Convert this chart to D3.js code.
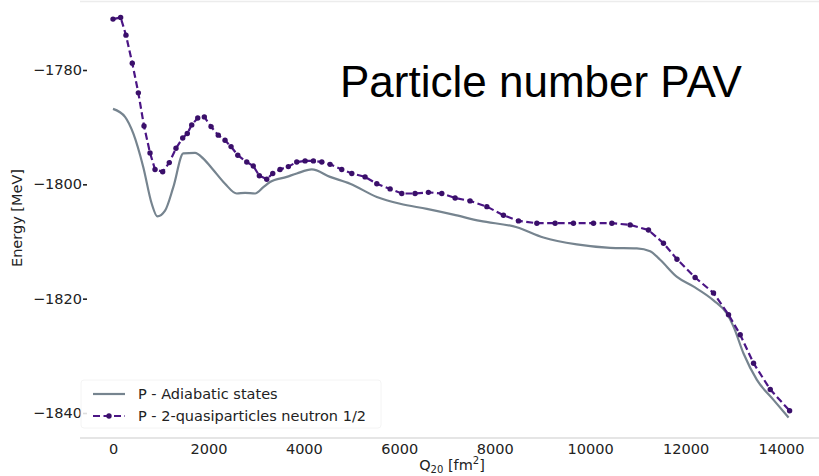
<!DOCTYPE html>
<html>
<head>
<meta charset="utf-8">
<script src="https://cdn.jsdelivr.net/npm/d3@7"></script>
<style>
  body { margin: 0; background: #fff; }
  text { font-family: "DejaVu Sans", sans-serif; }
</style>
</head>
<body>
<svg id="chart" width="819" height="476"></svg>
<script>
// Adiabatic states (solid gray)
const qAdiabatic = [0, 252, 425, 635, 812, 929, 1091, 1264, 1474, 1719,
  1893, 2103, 2348, 2593, 2767, 2977, 3151, 3291, 3641, 3851,
  4166, 4550, 4969, 5529, 6018, 6577, 7134, 7694, 8463, 9021,
  9720, 10420, 10978, 11258, 11467, 11820, 12170, 12585, 12865, 13005,
  13215, 13495, 13843, 14160];
const eAdiabatic = [-1786.8, -1788.2, -1791.1, -1797.0, -1803.4, -1805.6, -1804.6, -1800.5, -1794.6, -1794.5,
  -1795.5, -1797.5, -1799.9, -1801.6, -1801.5, -1801.6, -1800.5, -1799.6, -1798.7, -1798.1,
  -1797.4, -1798.7, -1799.9, -1802.2, -1803.4, -1804.3, -1805.3, -1806.4, -1807.5, -1809.3,
  -1810.5, -1811.1, -1811.2, -1811.7, -1813.2, -1816.2, -1817.9, -1820.3, -1822.6, -1824.9,
  -1829.6, -1834.2, -1837.7, -1840.8];

// 2-quasiparticles neutron 1/2 (dashed purple with dots)
const qQuasi = [0, 160, 272, 404, 531, 650, 776, 881, 1041, 1180,
  1320, 1461, 1557, 1650, 1776, 1914, 2055, 2207, 2348, 2474,
  2615, 2803, 2941, 3067, 3222, 3348, 3501, 3675, 3851, 4026,
  4200, 4376, 4550, 4794, 5005, 5283, 5529, 5808, 6052, 6331,
  6610, 6891, 7170, 7484, 7835, 8183, 8498, 8883, 9266, 9650,
  10070, 10455, 10839, 11223, 11537, 11820, 12200, 12585, 12900, 13145,
  13425, 13775, 14180];
const eQuasi = [-1771.1, -1770.8, -1773.9, -1778.8, -1784.0, -1789.8, -1794.5, -1797.4, -1797.8, -1796.2,
  -1793.7, -1791.9, -1791.1, -1789.6, -1788.4, -1788.2, -1789.9, -1791.4, -1792.3, -1793.4,
  -1794.9, -1796.1, -1796.8, -1798.5, -1799.1, -1798.1, -1797.4, -1796.9, -1796.1, -1795.9,
  -1795.9, -1796.1, -1796.5, -1797.4, -1798.1, -1798.7, -1799.9, -1800.8, -1801.6, -1801.6,
  -1801.4, -1801.6, -1802.4, -1802.9, -1803.9, -1805.4, -1806.4, -1806.8, -1806.8, -1806.8,
  -1806.8, -1806.8, -1807.1, -1808.0, -1810.3, -1813.1, -1816.3, -1819.0, -1822.8, -1826.3,
  -1831.3, -1835.9, -1839.6];

const xTicks = [0, 2000, 4000, 6000, 8000, 10000, 12000, 14000];
const yTicks = [-1780, -1800, -1820, -1840];
const seriesNames = ["P - Adiabatic states", "P - 2-quasiparticles neutron 1/2"];

const GRAY = "#76848f";
const PURPLE = "#4b1585";

const svg = d3.select("#chart");

const x = d3.scaleLinear().domain([0, 14000]).range([113, 781]);
const y = d3.scaleLinear().domain([-1840, -1780]).range([413, 70]);

const adiabatic = qAdiabatic.map((q, i) => ({ q: q, e: eAdiabatic[i] }));
const quasi = qQuasi.map((q, i) => ({ q: q, e: eQuasi[i] }));

// faint frame lines
svg.append("line")
  .attr("x1", 80).attr("x2", 819).attr("y1", 1.5).attr("y2", 1.5)
  .attr("stroke", "#ececec").attr("stroke-width", 1.5);
svg.append("line")
  .attr("x1", 80).attr("x2", 819).attr("y1", 438).attr("y2", 438)
  .attr("stroke", "#dcdcdc").attr("stroke-width", 1.5);

// y axis
const yAxis = svg.append("g")
  .attr("transform", "translate(87,0)")
  .call(d3.axisLeft(y).tickValues(yTicks).tickSize(4).tickPadding(1).tickFormat(d3.format("d")));
yAxis.select(".domain").remove();
yAxis.selectAll(".tick line").attr("stroke", "#222").attr("stroke-width", 1.6);
yAxis.selectAll(".tick text")
  .attr("fill", "#222")
  .style("font-size", "14.5px")
  .style("font-family", "DejaVu Sans");

// x axis
const xAxis = svg.append("g")
  .attr("transform", "translate(0,438)")
  .call(d3.axisBottom(x).tickValues(xTicks).tickSize(0).tickPadding(6).tickFormat(d3.format("d")));
xAxis.select(".domain").remove();
xAxis.selectAll(".tick text")
  .attr("fill", "#222")
  .style("font-size", "14.5px")
  .style("font-family", "DejaVu Sans");

// axis labels
svg.append("text")
  .attr("transform", "translate(22,218) rotate(-90)")
  .attr("text-anchor", "middle")
  .attr("fill", "#222")
  .style("font-size", "14.5px")
  .text("Energy [MeV]");

const xl = svg.append("text")
  .attr("x", 452).attr("y", 470)
  .attr("text-anchor", "middle")
  .attr("fill", "#222")
  .style("font-size", "14.5px");
xl.append("tspan").text("Q");
xl.append("tspan").attr("dy", 2.5).style("font-size", "10px").text("20");
xl.append("tspan").attr("dy", -2.5).text(" [fm");
xl.append("tspan").attr("dy", -6).style("font-size", "10px").text("2");
xl.append("tspan").attr("dy", 6).text("]");

// lines
const lineSmooth = d3.line()
  .x((d) => x(d.q))
  .y((d) => y(d.e))
  .curve(d3.curveMonotoneX);
const lineStraight = d3.line()
  .x((d) => x(d.q))
  .y((d) => y(d.e));

svg.append("path")
  .datum(adiabatic)
  .attr("d", lineSmooth)
  .attr("fill", "none")
  .attr("stroke", GRAY)
  .attr("stroke-width", 2.2);

svg.append("path")
  .datum(quasi)
  .attr("d", lineStraight)
  .attr("fill", "none")
  .attr("stroke", PURPLE)
  .attr("stroke-width", 2.2)
  .attr("stroke-dasharray", "7,3.5");

svg.append("g")
  .selectAll("circle")
  .data(quasi)
  .enter()
  .append("circle")
  .attr("cx", (d) => x(d.q))
  .attr("cy", (d) => y(d.e))
  .attr("r", 2.7)
  .attr("fill", "#3a0f6a");

// title
svg.append("text")
  .attr("x", 340).attr("y", 97)
  .attr("fill", "#000")
  .style("font-family", "'Liberation Sans', Arial, sans-serif")
  .style("font-size", "44px")
  .text("Particle number PAV");

// legend
const legend = svg.append("g");
legend.append("rect")
  .attr("x", 81).attr("y", 380).attr("width", 300).attr("height", 48)
  .attr("rx", 3)
  .attr("fill", "#fff").attr("fill-opacity", 0.85)
  .attr("stroke", "#f4f4f4");

legend.append("line")
  .attr("x1", 93).attr("x2", 125).attr("y1", 394).attr("y2", 394)
  .attr("stroke", GRAY).attr("stroke-width", 2.2);
legend.append("line")
  .attr("x1", 93).attr("x2", 125).attr("y1", 416).attr("y2", 416)
  .attr("stroke", PURPLE).attr("stroke-width", 2.2)
  .attr("stroke-dasharray", "7,3.5");
legend.append("circle")
  .attr("cx", 109).attr("cy", 416).attr("r", 2.7)
  .attr("fill", "#3a0f6a");

legend.selectAll("text.lg")
  .data(seriesNames)
  .enter()
  .append("text")
  .attr("class", "lg")
  .attr("x", 138)
  .attr("y", (d, i) => 399 + i * 22)
  .attr("fill", "#222")
  .style("font-size", "14.5px")
  .text((d) => d);
</script>
</body>
</html>
